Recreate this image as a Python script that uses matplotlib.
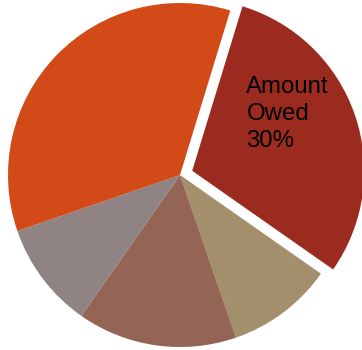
import matplotlib
matplotlib.use("Agg")
import matplotlib.pyplot as plt

# slices, clockwise from the exploded one
categories = ["Amount Owed", "New Credit", "Length of Credit History",
              "Types of Credit", "Payment History"]
shares = [30, 10, 15, 10, 35]
colors = ["#9B2B1F", "#A38F6B", "#946455", "#8F8383", "#D24A18"]
explode = [0.075, 0, 0, 0, 0]

fig = plt.figure(figsize=(3.62, 3.50), dpi=100)
ax = fig.add_axes([0, 0, 1, 1])
ax.pie(shares, colors=colors, explode=explode, startangle=73,
       counterclock=False, radius=1.0,
       wedgeprops=dict(linewidth=0, clip_on=False))

# map pixels so the pie centre sits at (180, 175) with radius 172 px
r = 172.0
ax.set_xlim(-180 / r, 182 / r)
ax.set_ylim(-175 / r, 175 / r)
ax.set_aspect("equal")
ax.axis("off")

# baseline of the last line ("30%")
ax.text(0.386, 0.16, "Amount\nOwed\n30%", fontsize=17.3,
        family="Liberation Sans", color="black",
        ha="left", va="baseline", linespacing=1.3)

fig.savefig("out.png", dpi=100)
